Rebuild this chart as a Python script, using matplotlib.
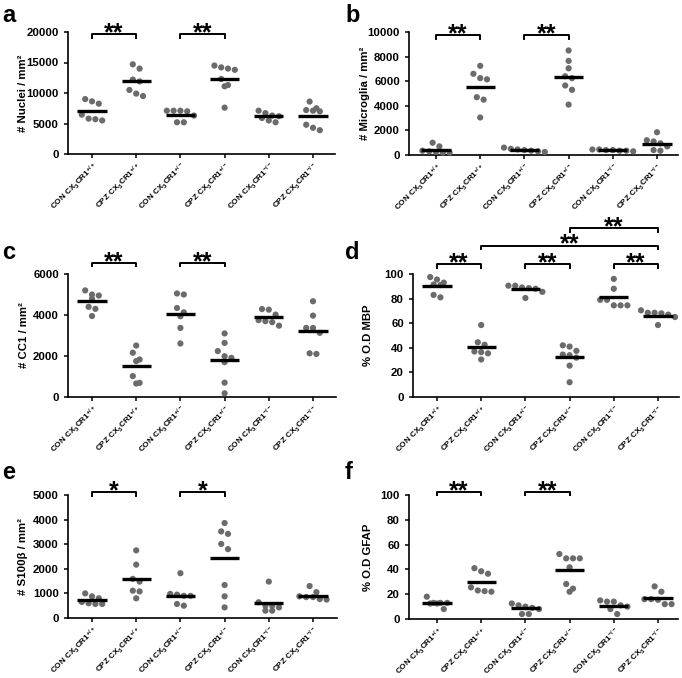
import matplotlib
matplotlib.use('Agg')
import matplotlib.pyplot as plt
import numpy as np

plt.rcParams['font.family'] = ['Liberation Sans', 'DejaVu Sans']
plt.rcParams['font.weight'] = 'bold'
plt.rcParams['mathtext.fontset'] = 'custom'
plt.rcParams['mathtext.rm'] = 'Liberation Sans:bold'
plt.rcParams['mathtext.bf'] = 'Liberation Sans:bold'
plt.rcParams['mathtext.it'] = 'Liberation Sans:bold'
plt.rcParams['mathtext.default'] = 'bf'

# ---------------- data ----------------
groups = [r'CON CX$_3$CR1$^{+/+}$', r'CPZ CX$_3$CR1$^{+/+}$',
          r'CON CX$_3$CR1$^{+/-}$', r'CPZ CX$_3$CR1$^{+/-}$',
          r'CON CX$_3$CR1$^{-/-}$', r'CPZ CX$_3$CR1$^{-/-}$']

nuclei = [[9000, 8630, 8250, 6450, 5800, 5700, 5500],
          [14700, 14000, 12200, 11900, 10500, 9900, 9500],
          [7100, 7100, 7100, 7000, 6300, 5200, 5200],
          [14500, 14200, 14000, 13800, 12300, 11300, 11100, 7600],
          [7100, 6700, 6300, 6200, 5900, 5500, 5200],
          [8600, 7500, 7200, 7100, 7000, 4800, 4300, 3900]]
nuclei_mean = [7000, 11900, 6400, 12350, 6150, 6200]

microglia = [[1000, 700, 350, 300, 250, 200, 200],
             [7250, 6600, 6250, 6150, 4700, 4500, 3050],
             [600, 500, 450, 400, 350, 300, 250],
             [8500, 7650, 7050, 6400, 6250, 5650, 5300, 4100],
             [450, 450, 400, 400, 350, 350, 300],
             [1850, 1200, 1100, 950, 700, 400, 350]]
microglia_mean = [400, 5500, 400, 6350, 380, 930]

cc1 = [[5200, 5000, 4950, 4800, 4400, 4300, 3950],
       [2510, 2160, 1830, 1750, 1020, 690, 660],
       [5050, 5000, 4340, 4130, 3940, 3370, 2610],
       [3100, 2640, 2240, 1990, 1910, 1700, 700, 180],
       [4290, 4260, 4020, 3750, 3700, 3650, 3480],
       [4670, 3970, 3370, 3370, 3130, 2130, 2100]]
cc1_mean = [4670, 1510, 4070, 1800, 3890, 3240]

mbp = [[97.5, 95.5, 93, 91.5, 91, 83, 81],
       [58.5, 44.5, 42.5, 37, 36.5, 35.5, 30.5],
       [90.5, 90.5, 89, 88.5, 88, 85.5, 80.5],
       [42, 41, 37.5, 34.5, 34, 32, 25.5, 12],
       [96, 88, 79, 79, 74.5, 74.5, 74.5],
       [70.5, 68.5, 68.5, 68, 67, 65, 58.5]]
mbp_mean = [90, 40.5, 87.8, 32.4, 81, 66.2]

s100 = [[1000, 880, 800, 650, 600, 570, 570],
        [2750, 2170, 1590, 1480, 1110, 1080, 800],
        [1820, 980, 950, 900, 900, 570, 500],
        [3860, 3520, 3420, 3010, 2800, 1340, 880, 430],
        [1480, 640, 500, 500, 430, 300, 300],
        [1300, 1050, 880, 850, 850, 770, 750]]
s100_mean = [730, 1590, 910, 2430, 610, 910]

gfap = [[18, 13, 13, 13, 12.5, 12.5, 8],
        [41, 38.5, 36.5, 25.5, 23, 22.5, 22],
        [12.5, 11, 10, 9, 8, 4, 4],
        [52.4, 48.9, 48.9, 48.9, 41.7, 28.2, 24.5, 22],
        [15, 14, 14, 11, 10, 8, 4],
        [26.3, 22, 16, 16, 15.5, 12, 12]]
gfap_mean = [12.9, 30, 8.9, 39.5, 10.8, 17]

ylabels = ['# Nuclei / mm²', '# Microglia / mm²', '# CC1 / mm²',
           '% O.D MBP', '# S100β / mm²', '% O.D GFAP']
yticks = [[0, 5000, 10000, 15000, 20000], [0, 2000, 4000, 6000, 8000, 10000],
          [0, 2000, 4000, 6000], [0, 20, 40, 60, 80, 100],
          [0, 1000, 2000, 3000, 4000, 5000], [0, 20, 40, 60, 80, 100]]
# significance comparisons: (group i, group j, label, level)
sig_a = [(1, 2, '**', 19600), (3, 4, '**', 19600)]
sig_b = [(1, 2, '**', 9750), (3, 4, '**', 9750)]
sig_c = [(1, 2, '**', 6540), (3, 4, '**', 6540)]
sig_d = [(1, 2, '**', 108), (3, 4, '**', 108), (5, 6, '**', 108),
         (2, 6, '**', 123), (4, 6, '**', 137)]
sig_e = [(1, 2, '*', 5120), (3, 4, '*', 5120)]
sig_f = [(1, 2, '**', 102.5), (3, 4, '**', 102.5)]
panel_letters = ['a', 'b', 'c', 'd', 'e', 'f']

# ---------------- layout ----------------
W, H = 682, 678
fig = plt.figure(figsize=(W / 100, H / 100), dpi=100)

# (left, right, top, bottom, first tick px, last tick px, label x px, letter x, letter baseline)
layout = [(68, 335, 32, 154, 92, 313, 28, 2, 22),
          (409, 678, 32, 155, 436, 657, 370, 345, 22),
          (68, 336, 274, 397, 92, 313, 29, 2, 259),
          (413, 679, 274, 397, 437, 658, 373, 345, 259),
          (68, 337, 495, 618, 92, 313, 28, 2, 479),
          (409, 678, 495, 619, 437, 658, 373, 345, 479)]

datasets = [(nuclei, nuclei_mean, sig_a), (microglia, microglia_mean, sig_b),
            (cc1, cc1_mean, sig_c), (mbp, mbp_mean, sig_d),
            (s100, s100_mean, sig_e), (gfap, gfap_mean, sig_f)]

DOT = '#6b6b6b'
SPACING = 6.8  # px between neighbouring dots in a row


def swarm(ax, xpos, vals):
    vals = np.asarray(vals, dtype=float)
    ys = ax.transData.transform(np.column_stack([np.full(len(vals), xpos), vals]))[:, 1]
    order = np.argsort(-ys)
    rows, cur = [], [order[0]]
    for idx in order[1:]:
        if ys[cur[0]] - ys[idx] < SPACING:
            cur.append(idx)
        else:
            rows.append(cur)
            cur = [idx]
    rows.append(cur)
    off = np.zeros(len(vals))
    for row in rows:
        n = len(row)
        for k, idx in enumerate(row):
            off[idx] = (k - (n - 1) / 2) * SPACING
    ppu = ax.transData.transform((1, 0))[0] - ax.transData.transform((0, 0))[0]
    return xpos + off / ppu


for p, ((L, R, T, B, t1, t6, lx, ltx, lty), (vals, means, sigs)) in enumerate(zip(layout, datasets)):
    ax = fig.add_axes([L / W, 1 - B / H, (R - L) / W, (B - T) / H])
    sp = (t6 - t1) / 5
    ax.set_xlim(1 - (t1 - L) / sp, 6 + (R - t6) / sp)
    ax.set_ylim(0, yticks[p][-1])
    ax.set_yticks(yticks[p])
    ax.set_xticks(range(1, 7))
    ax.set_xticklabels(groups, rotation=45, ha='right', va='top',
                       rotation_mode='anchor', fontsize=5.9)
    ax.tick_params(axis='x', pad=1.5)
    for lab in ax.get_yticklabels():
        lab.set_fontsize(8.2)
        lab.set_fontweight('bold')
    ax.tick_params(direction='out', length=3, width=1.1)
    for s in ['top', 'right']:
        ax.spines[s].set_visible(False)
    for s in ['left', 'bottom']:
        ax.spines[s].set_linewidth(1.2)
    ax.set_ylabel(ylabels[p], fontsize=8.2, fontweight='bold')
    ax.yaxis.set_label_coords((lx - L) / (R - L), 0.5)

    for i, (g, m) in enumerate(zip(vals, means)):
        xs = swarm(ax, i + 1, g)
        ax.scatter(xs, g, s=20, color=DOT, edgecolors='none', zorder=3, clip_on=False)
        ax.plot([i + 1 - 0.33, i + 1 + 0.33], [m, m], color='black', lw=2.4,
                solid_capstyle='butt', zorder=4, clip_on=False)

    hdat = 3.5 / (B - T) * yticks[p][-1]
    for (g1, g2, txt, lvl) in sigs:
        ax.plot([g1, g1, g2, g2], [lvl - hdat, lvl, lvl, lvl - hdat], color='black',
                lw=1.4, clip_on=False)
        ax.annotate(txt, xy=((g1 + g2) / 2, lvl), xytext=(0, -4.3), textcoords='offset points',
                    ha='center', va='baseline', fontsize=18, fontweight='bold',
                    annotation_clip=False)

    fig.text(ltx / W, 1 - lty / H, panel_letters[p], fontsize=17, fontweight='bold',
             ha='left', va='baseline')

fig.savefig('out.png', dpi=100)
